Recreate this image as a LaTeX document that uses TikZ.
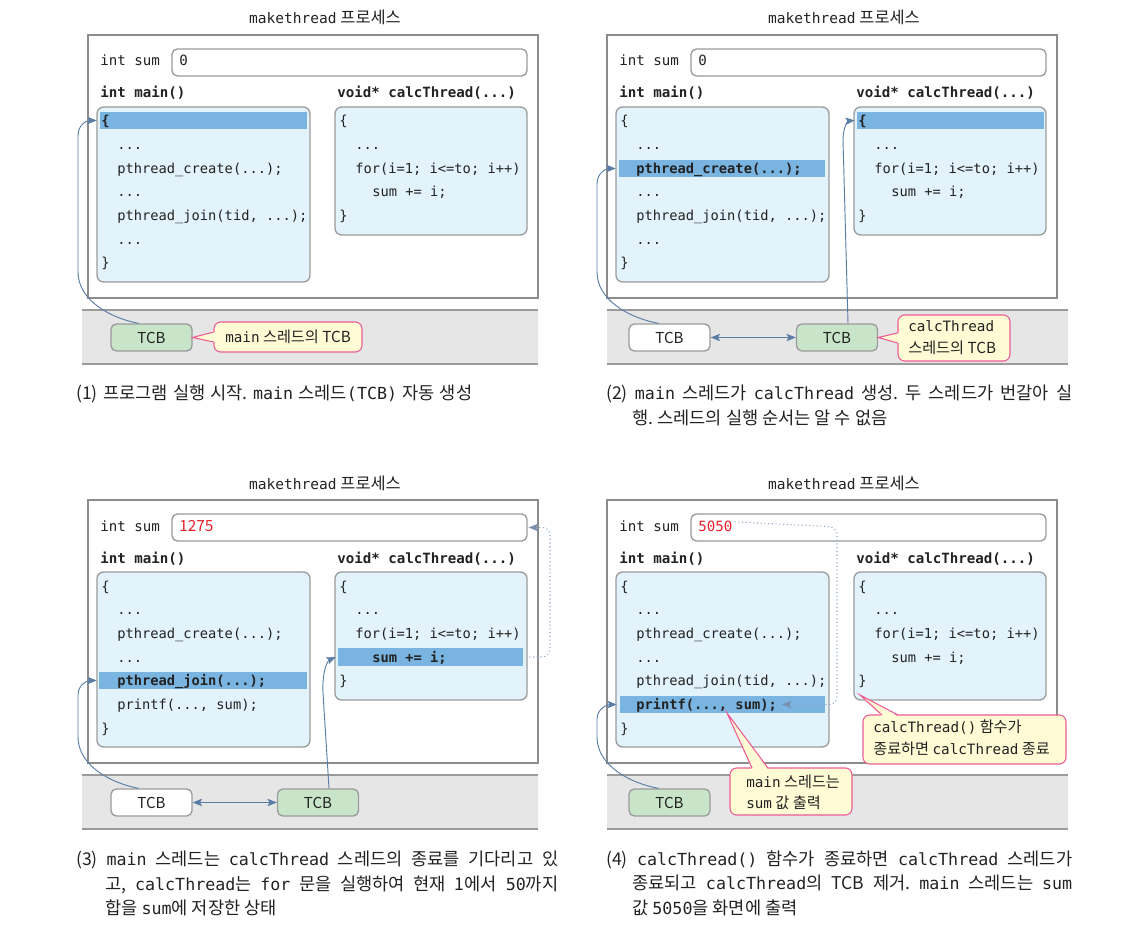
\documentclass[tikz,border=0pt]{standalone}
\usepackage{fontspec}
\setmainfont{Noto Sans CJK KR}
\newfontfamily\codefont{DejaVu Sans Mono}
\usetikzlibrary{arrows.meta,fit,calc}
\frenchspacing
\definecolor{procline}{HTML}{8C8C8C}
\definecolor{boxline}{HTML}{9B9B9B}
\definecolor{codefill}{HTML}{E2F3FC}
\definecolor{hlblue}{HTML}{7AB4E0}
\definecolor{bandfill}{HTML}{E6E6E6}
\definecolor{tcbgreen}{HTML}{C8E5C9}
\definecolor{callfill}{HTML}{FFFBD5}
\definecolor{callline}{HTML}{EE5C95}
\definecolor{arrcol}{HTML}{5A7DA6}
\definecolor{dotcol}{HTML}{8EA6C6}
\definecolor{dothead}{HTML}{7890B0}
\definecolor{valred}{HTML}{E8202A}
\definecolor{ink}{HTML}{222222}
\newcommand\cm[1]{{\codefont\fontsize{12.5}{15}\selectfont #1}}
\newcommand\tm[1]{{\codefont\fontsize{10.7}{12}\selectfont #1}}
\newcommand\jline[2]{\makebox[#1][s]{#2}}
\tikzset{
 proc/.style={draw=procline, line width=1.5pt, fill=white, inner sep=0pt},
 sumbox/.style={draw=boxline, line width=1pt, fill=white, rounded corners=4pt, inner sep=0pt},
 codebox/.style={draw=boxline, line width=1pt, fill=codefill, rounded corners=5pt, inner sep=0pt},
 hlbar/.style={fill=hlblue, inner sep=0pt},
 code/.style={font=\codefont\fontsize{10.3}{12}\selectfont, inner sep=0pt, text=ink, anchor=base west},
 codeb/.style={code, font=\codefont\bfseries\fontsize{10.3}{12}\selectfont},
 lbl/.style={font=\codefont\fontsize{10.6}{12}\selectfont, inner sep=0pt, text=ink, anchor=base west},
 lblb/.style={lbl, font=\codefont\bfseries\fontsize{10.6}{12}\selectfont},
 ttl/.style={font=\fontsize{12.3}{14}\selectfont, inner sep=0pt, text=ink, anchor=base},
 bandbox/.style={fill=bandfill, inner sep=0pt},
 bandline/.style={draw=boxline, line width=1.2pt},
 tcb/.style={draw=boxline, line width=1pt, rounded corners=4pt, minimum width=60.75pt, minimum height=20.25pt, inner sep=0pt, font=\fontsize{11.3}{13}\selectfont, text=ink, fill=white},
 callout/.style={draw=callline, fill=callfill, line width=0.8pt, rounded corners=5pt, inner sep=0pt},
 ctext/.style={font=\fontsize{11.4}{13}\selectfont, inner sep=0pt, text=ink, anchor=base west},
 arr/.style={draw=arrcol, line width=0.7pt, -{Stealth[length=7pt, width=5.5pt, inset=1.5pt]}},
 darr/.style={draw=arrcol, line width=0.7pt, {Stealth[length=7pt, width=5.5pt, inset=1.5pt]}-{Stealth[length=7pt, width=5.5pt, inset=1.5pt]}},
 dotline/.style={draw=dotcol, line width=0.8pt, dotted, rounded corners=6pt},
 dottip/.style={draw=dothead, line width=0.8pt, -{Stealth[length=7pt, width=5.5pt, inset=1.5pt]}},
 captxt/.style={font=\fontsize{13.2}{15}\selectfont\frenchspacing, inner sep=0pt, text=ink, anchor=base west},
}
\newcommand\panelframe[3]{%
 \node[ttl] (#1-title) at (325,24) {{\codefont\fontsize{10.9}{13}\selectfont makethread} 프로세스};
 \node[proc, fit={(88,35) (538,298)}] (#1-proc) {};
 \node[lbl] (#1-intsum) at (100,66) {int sum};
 \node[sumbox, fit={(172,49) (527,76)}] (#1-sumbox) {};
 \node[lbl, text=#3] (#1-val) at (179,66) {#2};
 \node[lblb] (#1-mainlbl) at (100,98) {int main()};
 \node[lblb] (#1-calclbl) at (337,98) {void* calcThread(...)};
 \node[codebox, fit={(97,107) (310,282)}] (#1-main) {};
 \node[codebox, fit={(335,107) (527,235)}] (#1-calc) {};
}
\begin{document}
\begin{tikzpicture}[x=0.75pt,y=-0.75pt]
\useasboundingbox (0,0) rectangle (1145,937);
% ================= panel 1
\begin{scope}
\panelframe{a}{0}{ink}
\node[hlbar, fit={(100,112) (307,129)}] (a-hl) {};
\node[codeb] (a-m0) at (101,126) {\{};
\node[code] (a-m1) at (117,149.7) {...};
\node[code] (a-m2) at (117,173.3) {pthread\_create(...);};
\node[code] (a-m3) at (117,197) {...};
\node[code] (a-m4) at (117,220.7) {pthread\_join(tid, ...);};
\node[code] (a-m5) at (117,244.3) {...};
\node[code] (a-m6) at (101,268) {\}};
\node[code] (a-c0) at (339,126) {\{};
\node[code] (a-c1) at (355,149.7) {...};
\node[code] (a-c2) at (355,173.3) {for(i=1; i<=to; i++)};
\node[code] (a-c3) at (372,197) {sum += i;};
\node[code] (a-c4) at (339,220.7) {\}};
\node[bandbox, fit={(82,310) (538,364)}] (a-band) {};
\draw[bandline] (a-band.north west) -- (a-band.north east) (a-band.south west) -- (a-band.south east);
\node[tcb, fill=tcbgreen] (a-tcb) at (151.5,337.5) {TCB};
\node[callout, fit={(214,322) (362,352)}] (a-call) {};
\node[ctext, anchor=center] (a-callt) at (a-call.center) {\tm{main} 스레드의 TCB};
\fill[callfill] (a-tcb.east) -- ($(a-call.west)+(1.5,-5)$) -- ($(a-call.west)+(1.5,5)$) -- cycle;
\draw[callline, line width=0.8pt] ($(a-call.west)+(0,-5)$) -- (a-tcb.east) -- ($(a-call.west)+(0,5)$);
\draw[arr] ($(a-tcb.north)+(-13,0)$) .. controls (110,318) and (78,300) .. (78,272) -- (78,136) .. controls (78,125) and (86,120.5) .. ($(a-hl.west)+(-3,0)$);
\end{scope}
% ================= panel 2
\begin{scope}[shift={(519,0)}]
\panelframe{b}{0}{ink}
\node[hlbar, fit={(100,160) (306,177)}] (b-hl) {};
\node[hlbar, fit={(338,112) (525,129)}] (b-hl2) {};
\node[code] (b-m0) at (101,126) {\{};
\node[code] (b-m1) at (117,149.7) {...};
\node[codeb] (b-m2) at (117,173.3) {pthread\_create(...);};
\node[code] (b-m3) at (117,197) {...};
\node[code] (b-m4) at (117,220.7) {pthread\_join(tid, ...);};
\node[code] (b-m5) at (117,244.3) {...};
\node[code] (b-m6) at (101,268) {\}};
\node[codeb] (b-c0) at (339,126) {\{};
\node[code] (b-c1) at (355,149.7) {...};
\node[code] (b-c2) at (355,173.3) {for(i=1; i<=to; i++)};
\node[code] (b-c3) at (372,197) {sum += i;};
\node[code] (b-c4) at (339,220.7) {\}};
\node[bandbox, fit={(88,310) (549,364)}] (b-band) {};
\draw[bandline] (b-band.north west) -- (b-band.north east) (b-band.south west) -- (b-band.south east);
\node[tcb] (b-tcbw) at (150.5,337.5) {TCB};
\node[tcb, fill=tcbgreen] (b-tcbg) at (318,337.5) {TCB};
\draw[darr] (b-tcbw.east) -- (b-tcbg.west);
\node[callout, fit={(379,315) (491,361)}] (b-call) {};
\node[ctext] (b-callt1) at (389,332) {\tm{calcThread}};
\node[ctext] (b-callt2) at (389,354) {스레드의 TCB};
\fill[callfill] (b-tcbg.east) -- ($(b-call.west)+(1.5,-5)$) -- ($(b-call.west)+(1.5,5)$) -- cycle;
\draw[callline, line width=0.8pt] ($(b-call.west)+(0,-5)$) -- (b-tcbg.east) -- ($(b-call.west)+(0,5)$);
\draw[arr] ($(b-tcbw.north)+(-11,0)$) .. controls (110,318) and (78,300) .. (78,272) -- (78,184) .. controls (78,172) and (88,168.5) .. ($(b-hl.west)+(-3,0)$);
\draw[arr] ($(b-tcbg.north)+(11,0)$) -- (324,140) .. controls (324,127) and (329,121) .. ($(b-hl2.west)+(-2,0)$);
\end{scope}
% ================= panel 3
\begin{scope}[shift={(0,465)}]
\panelframe{c}{\fontspec{Noto Sans CJK KR}\fontsize{11.5}{13}\selectfont 1275}{valred}
\node[hlbar, fit={(99,207) (307,224)}] (c-hl) {};
\node[hlbar, fit={(338,183) (523,201)}] (c-hl2) {};
\node[code] (c-m0) at (101,126) {\{};
\node[code] (c-m1) at (117,149.7) {...};
\node[code] (c-m2) at (117,173.3) {pthread\_create(...);};
\node[code] (c-m3) at (117,197) {...};
\node[codeb] (c-m4) at (117,220.7) {pthread\_join(...);};
\node[code] (c-m5) at (117,244.3) {printf(..., sum);};
\node[code] (c-m6) at (101,268) {\}};
\node[code] (c-c0) at (339,126) {\{};
\node[code] (c-c1) at (355,149.7) {...};
\node[code] (c-c2) at (355,173.3) {for(i=1; i<=to; i++)};
\node[codeb] (c-c3) at (372,197) {sum += i;};
\node[code] (c-c4) at (339,220.7) {\}};
\coordinate (c-dtip) at ($(c-sumbox.east)+(1,0)$);
\coordinate (c-dpre) at ($(c-dtip)+(8,0)$);
\draw[dotline] ($(c-hl2.east)+(6,0)$) -- (550,192) -- (550,62) -- (c-dpre);
\draw[dottip] (c-dpre) -- (c-dtip);
\node[bandbox, fit={(82,310) (538,364)}] (c-band) {};
\draw[bandline] (c-band.north west) -- (c-band.north east) (c-band.south west) -- (c-band.south east);
\node[tcb] (c-tcbw) at (151.5,337.5) {TCB};
\node[tcb, fill=tcbgreen] (c-tcbg) at (318,337.5) {TCB};
\draw[darr] (c-tcbw.east) -- (c-tcbg.west);
\draw[arr] ($(c-tcbw.north)+(-13,0)$) .. controls (110,318) and (78,300) .. (78,272) -- (78,230) .. controls (78,219) and (88,215.5) .. ($(c-hl.west)+(-2,0)$);
\draw[arr] ($(c-tcbg.north)+(11,0)$) -- (323,228) .. controls (322,208) and (327,196) .. ($(c-hl2.west)+(-2,0)$);
\end{scope}
% ================= panel 4
\begin{scope}[shift={(519,465)}]
\panelframe{d}{5050}{valred}
\node[hlbar, fit={(101,231) (306,248)}] (d-hl) {};
\node[code] (d-m0) at (101,126) {\{};
\node[code] (d-m1) at (117,149.7) {...};
\node[code] (d-m2) at (117,173.3) {pthread\_create(...);};
\node[code] (d-m3) at (117,197) {...};
\node[code] (d-m4) at (117,220.7) {pthread\_join(tid, ...);};
\node[codeb] (d-m5) at (117,244.3) {printf(..., sum);};
\node[code] (d-m6) at (101,268) {\}};
\node[code] (d-c0) at (339,126) {\{};
\node[code] (d-c1) at (355,149.7) {...};
\node[code] (d-c2) at (355,173.3) {for(i=1; i<=to; i++)};
\node[code] (d-c3) at (372,197) {sum += i;};
\node[code] (d-c4) at (339,220.7) {\}};
\coordinate (d-dtip) at (263,239.5);
\coordinate (d-dpre) at (271,239.5);
\draw[dotline] ($(d-val.east)+(2,-4)$) -- (318,62) -- (318,239.5) -- (d-dpre);
\draw[dottip] (d-dpre) -- (d-dtip);
\node[bandbox, fit={(88,310) (549,364)}] (d-band) {};
\draw[bandline] (d-band.north west) -- (d-band.north east) (d-band.south west) -- (d-band.south east);
\node[tcb, fill=tcbgreen] (d-tcb) at (150.5,337.5) {TCB};
\draw[arr] ($(d-tcb.north)+(-11,0)$) .. controls (110,318) and (78,300) .. (78,272) -- (78,254) .. controls (78,244) and (88,239.5) .. ($(d-hl.west)+(-3,0)$);
\coordinate (d-p1) at (208,248);
\node[callout, fit={(211,303) (333,350)}] (d-call1) {};
\fill[callfill] (d-p1) -- (233,304.5) -- (249,304.5) -- cycle;
\draw[callline, line width=0.8pt] (233,303) -- (d-p1) -- (249,303);
\node[ctext] (d-c1t1) at (227,322) {\tm{main} 스레드는};
\node[ctext] (d-c1t2) at (227,343) {\tm{sum} 값 출력};
\coordinate (d-p2) at (341,230);
\node[callout, fit={(344,250) (547,299)}] (d-call2) {};
\fill[callfill] (d-p2) -- (363,251.5) -- (379,251.5) -- cycle;
\draw[callline, line width=0.8pt] (363,250) -- (d-p2) -- (379,250);
\node[ctext] (d-c2t1) at (354,267) {\tm{calcThread()} 함수가};
\node[ctext] (d-c2t2) at (354,289) {종료하면 \tm{calcThread} 종료};
\end{scope}
% ================= captions
\node[captxt] (cap1) at (76,400) {\jline{297pt}{(1) 프로그램 실행 시작. \cm{main} 스레드\cm{(TCB)} 자동 생성}};
\node[captxt] (cap2a) at (606,400) {\jline{349.5pt}{(2) \cm{main} 스레드가 \cm{calcThread} 생성. 두 스레드가 번갈아 실}};
\node[captxt] (cap2b) at (632,425) {행. 스레드의 실행 순서는 알 수 없음};
\node[captxt] (cap3a) at (76,865) {\jline{361.5pt}{(3) \cm{main} 스레드는 \cm{calcThread} 스레드의 종료를 기다리고 있}};
\node[captxt] (cap3b) at (105,890) {\jline{339.75pt}{고, \cm{calcThread}는 \cm{for} 문을 실행하여 현재 1에서 \cm{50}까지}};
\node[captxt] (cap3c) at (105,914) {합을 \cm{sum}에 저장한 상태};
\node[captxt] (cap4a) at (606,865) {\jline{349.5pt}{(4) \cm{calcThread()} 함수가 종료하면 \cm{calcThread} 스레드가}};
\node[captxt] (cap4b) at (632,889) {\jline{330pt}{종료되고 \cm{calcThread}의 TCB 제거. \cm{main} 스레드는 \cm{sum}}};
\node[captxt] (cap4c) at (632,914) {값 \cm{5050}을 화면에 출력};
\end{tikzpicture}
\end{document}
